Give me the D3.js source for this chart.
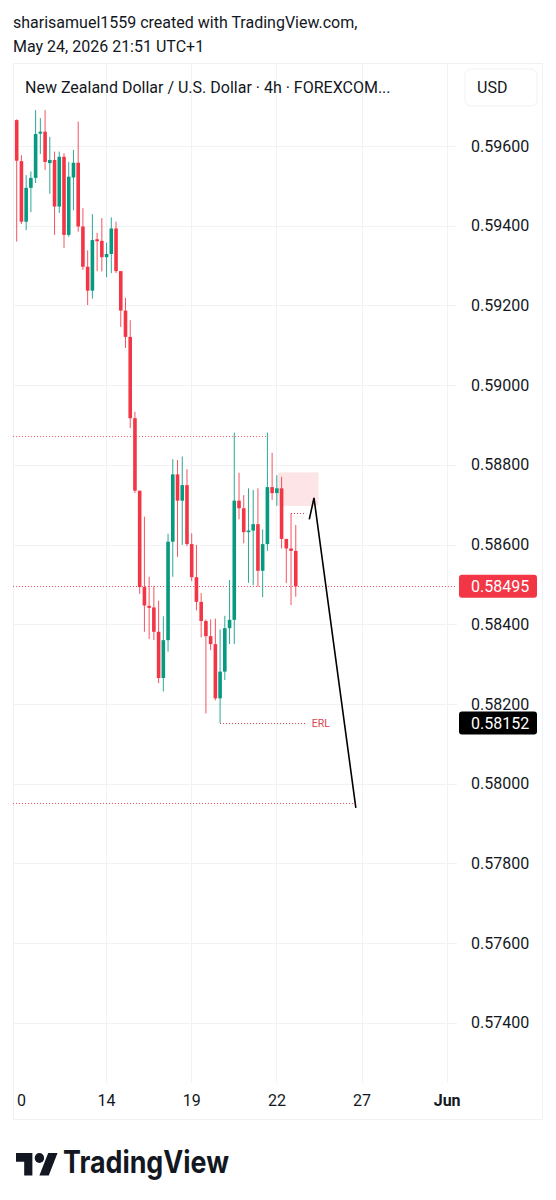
<!DOCTYPE html>
<html><head><meta charset="utf-8">
<script src="https://cdn.jsdelivr.net/npm/d3@7"></script>
<style>
body{margin:0;background:#fff}
svg{display:block;font-family:Roboto,"Noto Sans",sans-serif}
</style>
</head><body>
<svg id="c" width="556" height="1200"></svg>
<script>
// ---- data (4h candles) ----
const opens  = [0.59665,0.59562,0.59410,0.59495,0.59520,0.59631,0.59636,0.59557,0.59565,0.59448,
                0.59573,0.59377,0.59521,0.59558,0.59398,0.59297,0.59237,0.59366,0.59362,0.59321,
                0.59329,0.59393,0.59286,0.59187,0.59121,0.58917,0.58735,0.58493,0.58446,0.58442,
                0.58381,0.58265,0.58360,0.58607,0.58776,0.58710,0.58749,0.58601,0.58518,0.58456,
                0.58408,0.58370,0.58350,0.58214,0.58281,0.58390,0.58411,0.58710,0.58691,0.58631,
                0.58635,0.58651,0.58534,0.58601,0.58744,0.58729,0.58741,0.58614,0.58590,0.58584];
const highs  = [0.59667,0.59577,0.59527,0.59536,0.59690,0.59670,0.59690,0.59623,0.59586,0.59586,
                0.59582,0.59560,0.59590,0.59661,0.59444,0.59338,0.59429,0.59382,0.59419,0.59357,
                0.59421,0.59410,0.59286,0.59219,0.59163,0.58933,0.58735,0.58670,0.58519,0.58496,
                0.58459,0.58420,0.58627,0.58814,0.58812,0.58821,0.58789,0.58628,0.58599,0.58478,
                0.58412,0.58412,0.58414,0.58387,0.58421,0.58511,0.58881,0.58780,0.58724,0.58741,
                0.58737,0.58741,0.58638,0.58881,0.58830,0.58774,0.58770,0.58614,0.58678,0.58649];
const lows   = [0.59360,0.59404,0.59389,0.59434,0.59507,0.59580,0.59540,0.59480,0.59377,0.59432,
                0.59344,0.59372,0.59439,0.59385,0.59289,0.59201,0.59217,0.59286,0.59285,0.59271,
                0.59281,0.59281,0.59146,0.59093,0.58892,0.58729,0.58476,0.58381,0.58363,0.58360,
                0.58252,0.58231,0.58331,0.58519,0.58569,0.58599,0.58596,0.58508,0.58435,0.58367,
                0.58176,0.58335,0.58209,0.58152,0.58260,0.58350,0.58350,0.58663,0.58603,0.58504,
                0.58498,0.58494,0.58468,0.58584,0.58712,0.58697,0.58590,0.58503,0.58448,0.58469];
const closes = [0.59563,0.59410,0.59495,0.59520,0.59630,0.59636,0.59560,0.59565,0.59448,0.59573,
                0.59377,0.59523,0.59558,0.59398,0.59297,0.59237,0.59364,0.59361,0.59321,0.59329,
                0.59393,0.59286,0.59187,0.59121,0.58917,0.58735,0.58493,0.58447,0.58441,0.58381,
                0.58265,0.58360,0.58607,0.58776,0.58710,0.58749,0.58601,0.58518,0.58456,0.58408,
                0.58370,0.58350,0.58214,0.58281,0.58390,0.58411,0.58710,0.58691,0.58631,0.58635,
                0.58651,0.58534,0.58601,0.58744,0.58729,0.58741,0.58614,0.58590,0.58584,0.58495];

const priceTicks = [0.596,0.594,0.592,0.590,0.588,0.586,0.584,0.582,0.580,0.578,0.576,0.574];
const xTickPos    = [0.9, 18.9, 36.9, 54.9, 72.9, 90.9];
const xTickLabels = ["0","14","19","22","27","Jun"];

const lastPrice = 0.58495;
const erlPrice  = 0.58152;
const highLevel = 0.58872;   // dotted line over highs
const targetLevel = 0.57951; // lower dotted line
const smallLevel = 0.58678;
const zoneTop = 0.58781, zoneBottom = 0.58697, zoneStart = 55.3, zoneEnd = 63.8;
const arrowPts = [[61.86,0.58663],[62.85,0.58717],[71.7,0.57939]];

// ---- layout ----
const svg = d3.select("#c");
const paneL = 13, paneR = 457, paneT = 63, paneB = 1083, frameR = 542, frameB = 1119;
const x = d3.scaleLinear().domain([0, 90.9]).range([16.7, 446.66]);
const y = d3.scaleLinear().domain([0.596, 0.574]).range([146, 1022.7]);
const UP = "#089981", DOWN = "#F23645";

// header
svg.append("text").attr("x",13).attr("y",28).attr("font-size",16).attr("fill","#131722")
  .text("sharisamuel1559 created with TradingView.com,");
svg.append("text").attr("x",13).attr("y",52).attr("font-size",16).attr("fill","#131722")
  .text("May 24, 2026 21:51 UTC+1");

// frame
svg.append("rect").attr("x",paneL+0.5).attr("y",paneT+0.5).attr("width",frameR-paneL).attr("height",frameB-paneT)
  .attr("fill","none").attr("stroke","#f0f1f4");

// grid
const grid = svg.append("g").attr("stroke","#f0f2f5").attr("stroke-width",1);
grid.selectAll("line.h").data(priceTicks).join("line")
  .attr("x1",paneL).attr("x2",paneR).attr("y1",d=>Math.round(y(d))+0.5).attr("y2",d=>Math.round(y(d))+0.5);
grid.selectAll("line.v").data(xTickPos.slice(1)).join("line")
  .attr("y1",paneT).attr("y2",paneB).attr("x1",d=>Math.round(x(d))+0.5).attr("x2",d=>Math.round(x(d))+0.5);

// title + USD
svg.append("text").attr("x",25).attr("y",93).attr("font-size",16).attr("fill","#131722")
  .text("New Zealand Dollar / U.S. Dollar · 4h · FOREXCOM...");
svg.append("rect").attr("x",465).attr("y",69).attr("width",72).attr("height",37).attr("rx",6)
  .attr("fill","#fff").attr("stroke","#f0f2f5");
svg.append("text").attr("x",477).attr("y",93).attr("font-size",16).attr("fill","#131722").text("USD");

// zone
svg.append("rect").attr("x",x(zoneStart)).attr("y",y(zoneTop))
  .attr("width",x(zoneEnd)-x(zoneStart)).attr("height",y(zoneBottom)-y(zoneTop))
  .attr("fill","#fde4e6");

// dotted levels
const dot = (x1,x2,p,color,op)=>svg.append("line").attr("x1",x1).attr("x2",x2)
  .attr("y1",Math.round(y(p))+0.5).attr("y2",Math.round(y(p))+0.5)
  .attr("stroke",color).attr("stroke-opacity",op).attr("stroke-width",1).attr("stroke-dasharray","1,2");
dot(paneL, x(53), highLevel, DOWN, 0.8);
dot(paneL, paneR, lastPrice, DOWN, 0.85);
dot(x(43), x(61.4), erlPrice, "#c2313d", 0.9);
dot(paneL, x(71.1), targetLevel, DOWN, 0.85);
dot(x(58), x(61.2), smallLevel, "#c2313d", 0.9);
svg.append("text").attr("x",x(62.4)).attr("y",y(erlPrice)+4).attr("font-size",10.5)
  .attr("fill","#d9434f").text("ERL");

// candles
const data = opens.map((o,i)=>({i,o,h:highs[i],l:lows[i],c:closes[i]}));
const bw = 3.6;
const cg = svg.append("g");
cg.selectAll("line").data(data).join("line")
  .attr("x1",d=>x(d.i)).attr("x2",d=>x(d.i)).attr("y1",d=>y(d.h)).attr("y2",d=>y(d.l))
  .attr("stroke",d=>d.c>=d.o?UP:DOWN).attr("stroke-width",1).attr("stroke-opacity",0.85);
cg.selectAll("rect").data(data).join("rect")
  .attr("x",d=>x(d.i)-bw/2).attr("width",bw)
  .attr("y",d=>y(Math.max(d.o,d.c)))
  .attr("height",d=>Math.max(1.5, Math.abs(y(d.o)-y(d.c))))
  .attr("fill",d=>d.c>=d.o?UP:DOWN);

// arrow
svg.append("path").attr("d", d3.line().x(d=>x(d[0])).y(d=>y(d[1]))(arrowPts))
  .attr("fill","none").attr("stroke","#000").attr("stroke-width",1.6).attr("stroke-linejoin","miter");

// price axis
const ya = svg.append("g").attr("transform","translate(471,0)")
  .call(d3.axisRight(y).tickValues(priceTicks).tickFormat(d3.format(".5f")).tickSize(0).tickPadding(0));
ya.select(".domain").remove();
ya.selectAll("text").attr("font-size",16).attr("fill","#131722").attr("font-family","Roboto");

// price labels
const tag = (p,fill)=>{
  svg.append("rect").attr("x",459).attr("y",y(p)-11.5).attr("width",78).attr("height",23).attr("rx",3).attr("fill",fill);
  svg.append("text").attr("x",471).attr("y",y(p)+5.5).attr("font-size",16).attr("fill","#fff").text(d3.format(".5f")(p));
};
tag(lastPrice, DOWN);
tag(erlPrice, "#000");

// time axis
const xa = svg.append("g").attr("transform","translate(0,1095)")
  .call(d3.axisBottom(x).tickValues(xTickPos).tickFormat((d,i)=>xTickLabels[i]).tickSize(0).tickPadding(0));
xa.select(".domain").remove();
xa.selectAll("text").attr("font-size",16).attr("fill","#131722").attr("font-family","Roboto")
  .attr("font-weight",(d,i)=>xTickLabels[i]==="Jun"?"bold":"normal");

// logo
const lg = svg.append("g").attr("transform","translate(16,1148) scale(1.17,1.25)").attr("fill","#131722");
lg.append("path").attr("d","M14 22H7V11H0V4h14v18zM28 22h-8l7.5-18h8L28 22z");
lg.append("circle").attr("cx",20).attr("cy",8).attr("r",4);
svg.append("text").attr("x",63).attr("y",1173).attr("font-size",31).attr("font-weight",700)
  .attr("font-family","Inter, Roboto, sans-serif").attr("fill","#131722")
  .attr("textLength",166).attr("lengthAdjust","spacingAndGlyphs").text("TradingView");
</script>
</body></html>
